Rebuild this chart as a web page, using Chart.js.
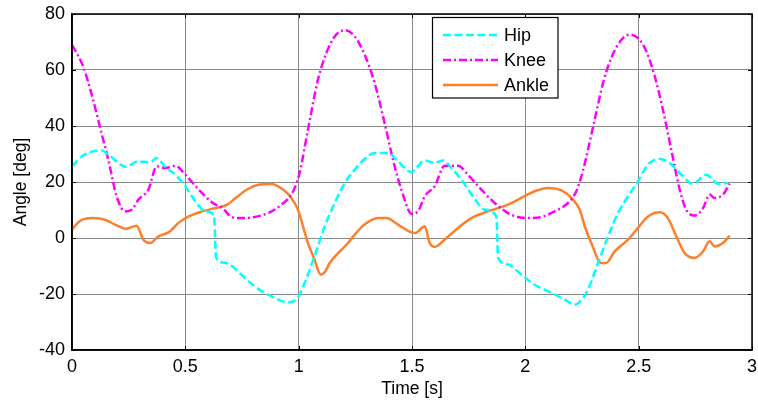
<!DOCTYPE html>
<html>
<head>
<meta charset="utf-8">
<script src="https://cdn.jsdelivr.net/npm/chart.js@4/dist/chart.umd.min.js"></script>
<style>
html,body{margin:0;padding:0;background:#fff;}
#c{display:block;}
</style>
</head>
<body>
<canvas id="c" width="758" height="401"></canvas>
<script>
// ---- data (time in s, angles in deg) ----
const seriesNames = ["Hip", "Knee", "Ankle"];
const xTicks = [0, 0.5, 1, 1.5, 2, 2.5, 3];
const yTicks = [-40, -20, 0, 20, 40, 60, 80];

const hipT = [0, 0.05, 0.13, 0.16, 0.24, 0.29, 0.345, 0.374, 0.41, 0.456, 0.5, 0.544, 0.59, 0.626, 0.636, 0.678, 0.759, 0.806, 0.879, 0.953, 0.99, 1.026, 1.07, 1.115, 1.159, 1.203, 1.247, 1.291, 1.335, 1.394, 1.438, 1.497, 1.556, 1.6, 1.638, 1.674, 1.718, 1.769, 1.821, 1.872, 1.88, 1.924, 1.982, 2.041, 2.115, 2.174, 2.218, 2.254, 2.276, 2.321, 2.365, 2.409, 2.453, 2.497, 2.541, 2.593, 2.637, 2.688, 2.74, 2.799, 2.85, 2.894];
const hipV = [25.6, 29.5, 31.3, 29.8, 25.4, 27.4, 27, 28.6, 25.6, 22.6, 18.5, 13.1, 9.5, 8.3, -7.1, -8.9, -14, -17.3, -20.8, -23, -22, -16.1, -6.5, 4.2, 12.5, 19.6, 24.4, 28.2, 30.4, 30.4, 27.4, 23.6, 27.7, 26.8, 27.7, 25, 20.8, 14.9, 10.1, 7.7, -7.1, -9.5, -13.1, -16.7, -19.6, -22, -23.8, -21.5, -18.5, -8.9, 0.6, 8.9, 14.9, 20.2, 26.2, 28.2, 26.8, 22.6, 19.4, 22.6, 19.4, 19.6];

const kneeT = [0, 0.049, 0.093, 0.13, 0.16, 0.197, 0.234, 0.263, 0.293, 0.337, 0.374, 0.411, 0.456, 0.5, 0.559, 0.618, 0.663, 0.707, 0.751, 0.806, 0.865, 0.924, 0.976, 1.004, 1.041, 1.085, 1.122, 1.159, 1.203, 1.247, 1.291, 1.335, 1.379, 1.416, 1.453, 1.5, 1.53, 1.556, 1.6, 1.644, 1.703, 1.753, 1.806, 1.865, 1.924, 1.968, 2.012, 2.071, 2.129, 2.188, 2.225, 2.254, 2.306, 2.343, 2.379, 2.424, 2.46, 2.497, 2.534, 2.571, 2.607, 2.644, 2.681, 2.71, 2.747, 2.784, 2.813, 2.835, 2.872, 2.901];
const kneeV = [69, 61.3, 49.4, 37.5, 28, 14.9, 9.5, 10.1, 13.7, 17.3, 25.6, 25, 25.8, 22.6, 17.3, 12.7, 10.7, 7.4, 7.1, 7.5, 8.9, 11.9, 16.7, 23.2, 38.7, 56.5, 66, 72, 74.2, 72, 65.5, 55.4, 41.1, 28, 17.3, 8.5, 10, 14.9, 18.5, 25.8, 25.8, 22, 17.3, 12.5, 8.9, 7.5, 7.1, 7.5, 9.5, 12.5, 16.7, 24, 42.3, 55.4, 64.3, 70.8, 72.6, 71.4, 66.7, 57.7, 45.8, 31.5, 17.3, 10.1, 8, 10.7, 15.5, 14.3, 15.5, 19.4];

const ankleT = [0, 0.034, 0.093, 0.145, 0.19, 0.24, 0.285, 0.315, 0.345, 0.382, 0.426, 0.47, 0.515, 0.574, 0.633, 0.685, 0.722, 0.776, 0.821, 0.879, 0.931, 0.968, 0.997, 1.019, 1.041, 1.07, 1.097, 1.118, 1.137, 1.174, 1.218, 1.247, 1.291, 1.35, 1.387, 1.438, 1.497, 1.515, 1.556, 1.578, 1.6, 1.644, 1.703, 1.762, 1.835, 1.924, 1.982, 2.041, 2.1, 2.159, 2.203, 2.24, 2.262, 2.291, 2.335, 2.357, 2.394, 2.453, 2.497, 2.541, 2.593, 2.629, 2.666, 2.703, 2.747, 2.784, 2.813, 2.835, 2.872, 2.901];
const ankleV = [3, 6, 7.1, 6.5, 4.8, 3.3, 4.4, -0.6, -1.8, 0.6, 2, 5.4, 7.7, 9.5, 10.7, 11.9, 14.3, 17.5, 19, 19.3, 17.3, 14.3, 10.1, 4.2, -1.8, -7.7, -13.1, -11.9, -8.9, -5.4, -1.8, 1.2, 4.8, 7.1, 7.1, 4.8, 2, 1.8, 4.2, -1.8, -3.2, -0.6, 3.6, 7.1, 9.5, 11.9, 14.3, 16.7, 17.9, 17, 14.3, 10.1, 4.2, -1.8, -8.9, -8.9, -4.8, -0.6, 3.6, 7.7, 9.2, 7.1, 0.6, -5.4, -7.1, -4.8, -1.2, -3, -1.8, 0.8];

const FONT = "'Liberation Sans', Arial, sans-serif";
const toPts = (ts, vs) => ts.map((t, i) => ({x: t, y: vs[i]}));

const styles = [
  {color: '#00ffff', dash: [8, 3.5]},
  {color: '#ff00ff', dash: [8, 3, 2, 3]},
  {color: '#ff7f2a', dash: []}
];
const allData = [toPts(hipT, hipV), toPts(kneeT, kneeV), toPts(ankleT, ankleV)];

// frame with inward ticks (MATLAB-like box)
const boxPlugin = {
  id: 'box',
  afterDraw(chart) {
    const {ctx, chartArea: a, scales} = chart;
    ctx.save();
    ctx.strokeStyle = '#000';
    ctx.lineWidth = 1;
    const L = 4;
    ctx.beginPath();
    xTicks.forEach(v => {
      const x = Math.round(scales.x.getPixelForValue(v)) + 0.5;
      ctx.moveTo(x, a.bottom); ctx.lineTo(x, a.bottom - L);
      ctx.moveTo(x, a.top); ctx.lineTo(x, a.top + L);
    });
    yTicks.forEach(v => {
      const y = Math.round(scales.y.getPixelForValue(v)) + 0.5;
      ctx.moveTo(a.left, y); ctx.lineTo(a.left + L, y);
      ctx.moveTo(a.right, y); ctx.lineTo(a.right - L, y);
    });
    ctx.stroke();
    ctx.lineWidth = 1.5;
    ctx.strokeRect(a.left, a.top, a.right - a.left, a.bottom - a.top);
    ctx.restore();
  }
};

// legend inside the axes
const legendPlugin = {
  id: 'insideLegend',
  afterDraw(chart) {
    const {ctx} = chart;
    const bx = 432.5, by = 17.5, bw = 125.5, bh = 80.5;
    ctx.save();
    ctx.fillStyle = '#fff';
    ctx.fillRect(bx, by, bw, bh);
    ctx.strokeStyle = '#000';
    ctx.lineWidth = 1.2;
    ctx.strokeRect(bx, by, bw, bh);
    ctx.font = '18px ' + FONT;
    ctx.textBaseline = 'middle';
    seriesNames.forEach((name, i) => {
      const y = by + 17.5 + i * 25;
      ctx.strokeStyle = styles[i].color;
      ctx.lineWidth = 2.5;
      ctx.setLineDash(styles[i].dash);
      ctx.beginPath();
      ctx.moveTo(bx + 10.5, y); ctx.lineTo(bx + 65.5, y);
      ctx.stroke();
      ctx.setLineDash([]);
      ctx.fillStyle = '#000';
      ctx.fillText(name, bx + 71.5, y + 1);
    });
    ctx.restore();
  }
};

new Chart(document.getElementById('c'), {
  type: 'line',
  data: {
    datasets: seriesNames.map((n, i) => ({
      label: n,
      data: allData[i],
      borderColor: styles[i].color,
      backgroundColor: styles[i].color,
      borderDash: styles[i].dash,
      borderWidth: 2.5,
      pointRadius: 0,
      fill: false,
      cubicInterpolationMode: 'monotone'
    }))
  },
  options: {
    responsive: false,
    animation: false,
    devicePixelRatio: 1,
    layout: {padding: {top: 14, right: 6, left: 0, bottom: 0}},
    plugins: {legend: {display: false}, tooltip: {enabled: false}},
    scales: {
      x: {
        type: 'linear', min: 0, max: 3,
        afterBuildTicks: s => { s.ticks = xTicks.map(v => ({value: v})); },
        afterFit: s => { s.height = 51; s.paddingLeft = 0; s.paddingRight = 0; },
        ticks: {color: '#000', font: {family: FONT, size: 18}, padding: 6, maxRotation: 0,
                callback: v => String(v)},
        grid: {color: '#8a8a8a', lineWidth: 1, drawTicks: false},
        border: {color: '#000', width: 1.5},
        title: {display: true, text: 'Time [s]', color: '#000', font: {family: FONT, size: 17.5}, padding: {top: 2, bottom: 1.5}}
      },
      y: {
        type: 'linear', min: -40, max: 80,
        afterBuildTicks: s => { s.ticks = yTicks.map(v => ({value: v})); },
        afterFit: s => { s.width = 72; s.paddingTop = 0; s.paddingBottom = 0; },
        ticks: {color: '#000', font: {family: FONT, size: 18}, padding: 7,
                callback: v => String(v)},
        grid: {color: '#8a8a8a', lineWidth: 1, drawTicks: false},
        border: {color: '#000', width: 1.5},
        title: {display: true, text: 'Angle [deg]', color: '#000', font: {family: FONT, size: 17.5}, padding: {top: 11, bottom: 0}}
      }
    }
  },
  plugins: [boxPlugin, legendPlugin]
});
</script>
</body>
</html>
